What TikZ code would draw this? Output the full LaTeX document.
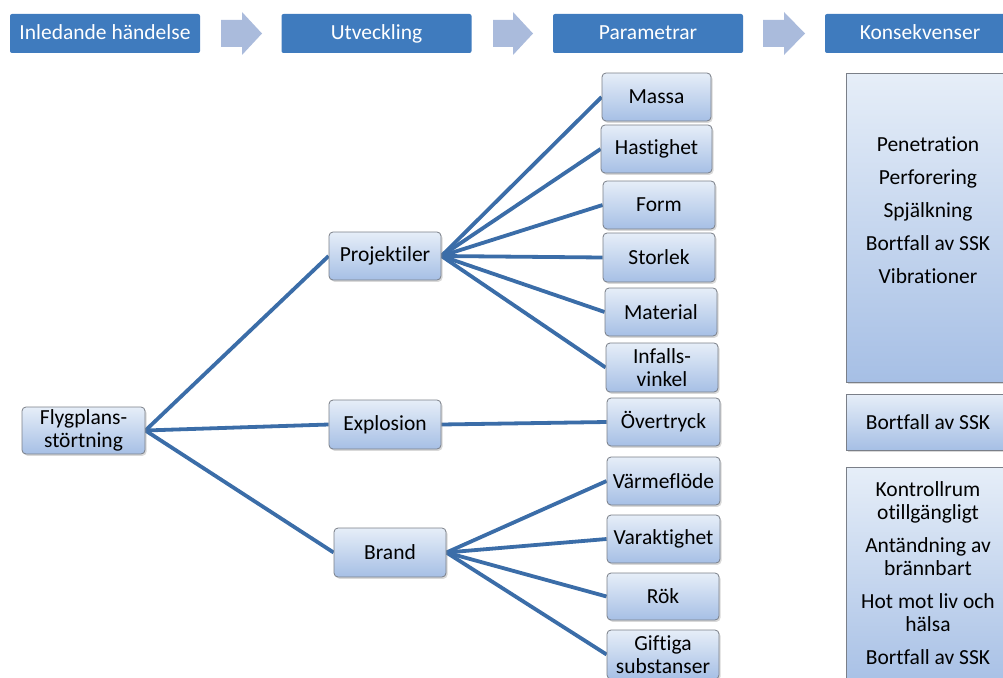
\documentclass[tikz,border=0pt]{standalone}
\usepackage{fontspec}
\setmainfont{Carlito}[Ligatures=NoCommon]
\usetikzlibrary{shadows,backgrounds}
\definecolor{hdr}{HTML}{3F7BBE}
\definecolor{arr}{HTML}{AABBDC}
\definecolor{linkc}{HTML}{3B6DA8}
\definecolor{boxtop}{HTML}{E6EEF8}
\definecolor{boxbot}{HTML}{A6BFE5}
\definecolor{boxline}{HTML}{7A7F88}
\newcommand{\txtsize}{\fontsize{21.5}{23}\selectfont}

\begin{document}
\begin{tikzpicture}[x=1pt,y=-1pt,
  header/.style={fill=hdr, rounded corners=2pt, text=white, font=\txtsize,
    inner sep=0pt, minimum height=39pt, minimum width=190pt,
    text height=16.5pt, text depth=4pt},
  pbox/.style={draw=boxline, line width=0.8pt, rounded corners=4pt,
    top color=boxtop, bottom color=boxbot,
    drop shadow={opacity=0.3, shadow xshift=1.5pt, shadow yshift=-1.8pt},
    font=\txtsize, align=center, inner sep=0pt},
  cbox/.style={draw=boxline, line width=0.8pt,
    top color=boxtop, bottom color=boxbot,
    drop shadow={opacity=0.3, shadow xshift=1.5pt, shadow yshift=-1.8pt},
    inner sep=0pt, minimum width=164pt},
  ctext/.style={font=\txtsize, align=center, inner sep=0pt},
  linkline/.style={draw=linkc, line width=3.8pt},
  flow/.style={fill=arr, draw=none}]

\useasboundingbox (0,0) rectangle (1003,677);
\clip (0,0) rectangle (1003,677);

% column headings
\node[header] (h1) at (105,33.5) {Inledande händelse};
\node[header] (h2) at (376.5,33.5) {Utveckling};
\node[header] (h3) at (648,33.5) {Parametrar};
\node[header] (h4) at (920,33.5) {Konsekvenser};

% flow arrows between headings
\fill[flow] (221,20) -- (242,20) -- (242,12) -- (262,33.5) -- (242,55) -- (242,47) -- (221,47) -- cycle;
\fill[flow] (493,20) -- (513,20) -- (513,12) -- (533,33.5) -- (513,55) -- (513,47) -- (493,47) -- cycle;
\fill[flow] (763,20) -- (784,20) -- (784,12) -- (805,33.5) -- (784,55) -- (784,47) -- (763,47) -- cycle;

% initiating event and developments
\node[pbox, minimum width=123pt, minimum height=47pt] (fly) at (83.5,430.5) {Flygplans-\\störtning};
\node[pbox, minimum width=112pt, minimum height=48pt] (proj) at (385,256) {Projektiler};
\node[pbox, minimum width=112pt, minimum height=49pt] (expl) at (385,424.5) {Explosion};
\node[pbox, minimum width=112pt, minimum height=49pt] (brand) at (390,552.5) {Brand};

% parameters
\node[pbox, minimum width=109pt, minimum height=48pt] (massa) at (656.5,97) {Massa};
\node[pbox, minimum width=111pt, minimum height=48pt] (hast) at (656.5,149) {Hastighet};
\node[pbox, minimum width=112pt, minimum height=48pt] (form) at (659,205) {Form};
\node[pbox, minimum width=112pt, minimum height=49pt] (stor) at (659,257.5) {Storlek};
\node[pbox, minimum width=112pt, minimum height=48pt] (mat) at (661,312) {Material};
\node[pbox, minimum width=112pt, minimum height=49pt] (inf) at (662,367.5) {Infalls-\\vinkel};
\node[pbox, minimum width=113pt, minimum height=48pt] (over) at (663.5,422) {Övertryck};
\node[pbox, minimum width=113pt, minimum height=48pt] (varm) at (663.5,481) {Värmeflöde};
\node[pbox, minimum width=113pt, minimum height=48pt] (vara) at (663.5,539) {Varaktighet};
\node[pbox, minimum width=112pt, minimum height=47pt] (rok) at (663,596.5) {Rök};
\node[pbox, minimum width=112pt, minimum height=49pt] (gift) at (663,654.5) {Giftiga\\substanser};

% consequences
\node[cbox, minimum height=309pt] (k1) at (928,227.5) {};
\node[cbox, minimum height=56pt] (k2) at (928,422) {};
\node[cbox, minimum height=223pt] (k3) at (928,578.5) {};
\node[ctext] (k1t) at (928,210) {Penetration\\[10pt]Perforering\\[10pt]Spjälkning\\[10pt]Bortfall av SSK\\[10pt]Vibrationer};
\node[ctext] (k2t) at (928,422) {Bortfall av SSK};
\node[ctext] (k3t) at (928,573) {Kontrollrum\\otillgängligt\\[10pt]Antändning av\\brännbart\\[10pt]Hot mot liv och\\hälsa\\[10pt]Bortfall av SSK};

% connectors, kept behind the boxes
\begin{scope}[on background layer]
  \draw[linkline] (fly.east) -- (proj.west);
  \draw[linkline] (fly.east) -- (expl.west);
  \draw[linkline] (fly.east) -- (brand.west);
  \foreach \p in {massa,hast,form,stor,mat,inf}
    \draw[linkline] (proj.east) -- (\p.west);
  \draw[linkline] (expl.east) -- (over.west);
  \foreach \p in {varm,vara,rok,gift}
    \draw[linkline] (brand.east) -- (\p.west);
\end{scope}
\end{tikzpicture}
\end{document}
